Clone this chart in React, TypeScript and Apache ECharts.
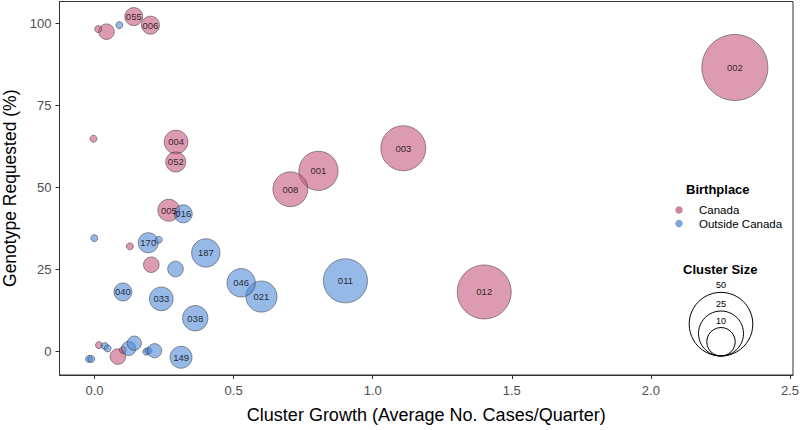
import React, { useEffect, useRef } from "react";
import * as echarts from "echarts";

// Canada-born clusters
const canadaX = [2.302, 1.401, 1.11, 0.805, 0.704, 0.293, 0.292, 0.267, 0.141, 0.201, 0.043, 0.013, -0.004, 0.127, 0.204, 0.016, 0.084, 0.102];
const canadaY = [86.6, 18.2, 62.0, 55.1, 49.5, 63.9, 57.8, 43.1, 102.1, 99.5, 97.5, 98.3, 64.9, 32.1, 26.5, 2.0, -1.5, 0.5];
const canadaSize = [54, 36, 25, 19, 15, 7, 5, 6, 4, 4, 3, 0.6, 0.6, 0.6, 3, 0.6, 3, 0.6];
const canadaId = ["002", "012", "003", "001", "008", "004", "052", "005", "055", "006", "", "", "", "", "", "", "", ""];

// Outside-Canada-born clusters
const outsideX = [0.902, 0.6, 0.527, 0.4, 0.362, 0.24, 0.311, 0.102, 0.193, 0.319, 0.291, 0.089, -0.001, 0.231, 0.037, 0.047, -0.02, -0.012, 0.123, 0.143, 0.186, 0.194, 0.216];
const outsideY = [21.6, 16.8, 21.0, 30.1, 10.2, 16.1, -1.7, 18.2, 33.2, 42.0, 25.2, 99.5, 34.6, 34.1, 1.7, 1.0, -2.2, -2.2, 1.0, 2.6, 0.0, 0.3, 0.3];
const outsideSize = [24, 12, 10, 10, 8, 7, 6, 4, 5, 4, 3, 0.6, 0.6, 0.6, 0.6, 0.6, 0.6, 0.6, 2.5, 2.5, 0.6, 0.6, 2.5];
const outsideId = ["011", "021", "046", "187", "038", "033", "149", "040", "170", "016", "", "", "", "", "", "", "", "", "", "", "", "", ""];

const xTicks = [0, 0.5, 1.0, 1.5, 2.0, 2.5];
const yTicks = [0, 25, 50, 75, 100];
const legendSizes = [50, 25, 10];
const birthplaces = ["Canada", "Outside Canada"];

const FONT = "Liberation Sans, Arial, sans-serif";
const K = 4.5;
const radius = (s: number) => K * Math.sqrt(s);

const colors = ["rgba(198,86,123,0.74)", "rgba(79,136,214,0.74)"];

const build = (xs: number[], ys: number[], ss: number[], ids: string[]) =>
  xs.map((x, i) => [x, ys[i], ss[i], ids[i]]);

export default function App() {
  const ref = useRef<HTMLDivElement>(null);
  useEffect(() => {
    if (!ref.current) return;
    const chart = echarts.init(ref.current, undefined, { renderer: "svg" });
    const seriesData = [
      build(canadaX, canadaY, canadaSize, canadaId),
      build(outsideX, outsideY, outsideSize, outsideId),
    ];
    const series = birthplaces.map((name, k) => ({
      type: "scatter",
      name,
      data: seriesData[k],
      symbol: "circle",
      symbolSize: (v: any) => 2 * radius(v[2]),
      itemStyle: { color: colors[k], borderColor: "rgba(40,40,40,0.75)", borderWidth: 0.8 },
      label: {
        show: true,
        position: "inside",
        formatter: (p: any) => p.data[3] || "",
        fontSize: 9.5,
        color: "#000",
        fontFamily: FONT,
      },
      emphasis: { disabled: true },
    }));

    const cx = 721;
    const bottom = 356;
    const graphics: any[] = [
      { type: "text", left: 686, top: 183, style: { text: "Birthplace", font: `bold 13px ${FONT}`, fill: "#000" } },
      { type: "text", left: 683, top: 263, style: { text: "Cluster Size", font: `bold 13px ${FONT}`, fill: "#000" } },
    ];
    birthplaces.forEach((b, i) => {
      const y = 210 + i * 13.5;
      graphics.push({ type: "circle", shape: { cx: 679, cy: y, r: 3.5 }, style: { fill: colors[i], stroke: "rgba(40,40,40,0.3)", lineWidth: 0.5 } });
      graphics.push({ type: "text", x: 699, y, style: { text: b, font: `11.5px ${FONT}`, fill: "#000", textVerticalAlign: "middle" } });
    });
    legendSizes.forEach((s) => {
      const r = radius(s);
      graphics.push({ type: "circle", shape: { cx, cy: bottom - r, r }, style: { fill: "none", stroke: "#000", lineWidth: 1 } });
      graphics.push({ type: "text", x: cx, y: bottom - 2 * r - 7, style: { text: String(s), font: `9px ${FONT}`, fill: "#000", textAlign: "center", textVerticalAlign: "middle" } });
    });

    chart.setOption({
      animation: false,
      grid: {
        left: 59.5, right: 7, top: 1.5, bottom: 55,
        outerBoundsMode: "none", containLabel: false,
        show: true, borderColor: "#333", borderWidth: 1, backgroundColor: "transparent",
      },
      xAxis: {
        type: "value",
        min: -0.126,
        max: 2.511,
        name: "Cluster Growth (Average No. Cases/Quarter)",
        nameLocation: "middle",
        nameGap: 31,
        nameTextStyle: { fontSize: 18, color: "#000", fontFamily: FONT },
        axisLine: { show: true, onZero: false, lineStyle: { color: "#333", width: 1 } },
        splitLine: { show: false },
        axisTick: { show: true, length: 4, customValues: xTicks, lineStyle: { color: "#333" } },
        axisLabel: { customValues: xTicks, formatter: (v: number) => v.toFixed(1), fontSize: 13, color: "#4d4d4d", fontFamily: FONT, margin: 9 },
      },
      yAxis: {
        type: "value",
        min: -7.1,
        max: 106.7,
        name: "Genotype Requested (%)",
        nameLocation: "middle",
        nameGap: 38,
        nameRotate: 90,
        nameTextStyle: { fontSize: 17.5, color: "#000", fontFamily: FONT },
        axisLine: { show: true, onZero: false, lineStyle: { color: "#333", width: 1 } },
        splitLine: { show: false },
        axisTick: { show: true, length: 4, customValues: yTicks, lineStyle: { color: "#333" } },
        axisLabel: { customValues: yTicks, fontSize: 13, color: "#4d4d4d", fontFamily: FONT, margin: 8 },
      },
      series,
      graphic: graphics,
    });
    return () => chart.dispose();
  }, []);
  return <div ref={ref} style={{ position: "fixed", left: 0, top: 0, width: 800, height: 430, background: "#fff" }} />;
}
